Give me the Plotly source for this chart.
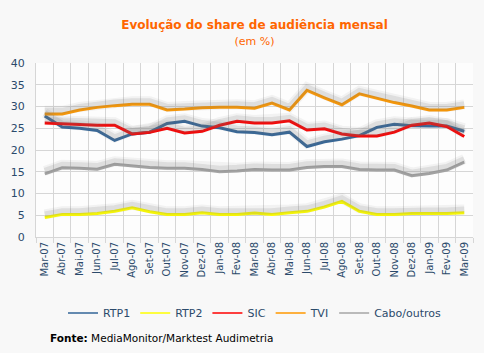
import plotly.graph_objects as go

months = ["Mar-07", "Abr-07", "Mai-07", "Jun-07", "Jul-07", "Ago-07", "Set-07", "Out-07",
          "Nov-07", "Dez-07", "Jan-08", "Fev-08", "Mar-08", "Abr-08", "Mai-08", "Jun-08",
          "Jul-08", "Ago-08", "Set-08", "Out-08", "Nov-08", "Dez-08", "Jan-09", "Fev-09", "Mar-09"]

rtp1 = [27.8, 25.3, 25.0, 24.5, 22.2, 23.7, 24.1, 26.1, 26.6, 25.5, 25.1, 24.2,
        24.0, 23.5, 24.1, 20.8, 21.9, 22.5, 23.3, 25.2, 25.9, 25.6, 25.5, 25.5, 24.3]
rtp2 = [4.5, 5.2, 5.2, 5.4, 5.9, 6.7, 5.8, 5.2, 5.2, 5.6, 5.2, 5.2,
        5.5, 5.2, 5.6, 5.9, 6.9, 8.2, 5.9, 5.2, 5.2, 5.4, 5.4, 5.4, 5.6]
sic = [26.2, 26.0, 25.8, 25.7, 25.7, 23.7, 24.1, 25.0, 23.9, 24.3, 25.7, 26.6,
       26.2, 26.2, 26.7, 24.6, 24.9, 23.7, 23.2, 23.2, 24.1, 25.7, 26.2, 25.4, 23.1]
tvi = [28.3, 28.3, 29.2, 29.8, 30.2, 30.5, 30.5, 29.2, 29.4, 29.7, 29.8, 29.8,
       29.6, 30.8, 29.2, 33.7, 32.0, 30.4, 32.9, 31.9, 30.9, 30.1, 29.2, 29.2, 29.8]
cabo = [14.5, 15.9, 15.8, 15.6, 16.7, 16.3, 16.0, 15.8, 15.8, 15.5, 15.0, 15.2,
        15.5, 15.4, 15.4, 16.0, 16.2, 16.2, 15.5, 15.4, 15.4, 14.1, 14.6, 15.4, 17.2]

series = [("RTP1", rtp1, "#336699"), ("RTP2", rtp2, "#ffff00"), ("SIC", sic, "#ff0000"),
          ("TVI", tvi, "#ff9900"), ("Cabo/outros", cabo, "#a6a6a6")]

text_col = "#2b4a6b"
font_fam = "DejaVu Sans"

fig = go.Figure()
# soft drop shadows (drawn on a shifted overlay axis so they sit slightly above)
for name, vals, col in series:
    for w, a in [(10, 0.08), (6, 0.16)]:
        fig.add_trace(go.Scatter(x=months, y=vals, mode="lines", yaxis="y2",
                                 line=dict(color=f"rgba(120,120,120,{a})", width=w),
                                 showlegend=False, hoverinfo="skip"))
for name, vals, col in series:
    fig.add_trace(go.Scatter(x=months, y=vals, mode="lines", name=name,
                             line=dict(color=col, width=3), showlegend=False))
# legend entries with thin sample lines
for name, vals, col in series:
    fig.add_trace(go.Scatter(x=[months[0]], y=[None], mode="lines", name=name,
                             line=dict(color=col, width=1.5), showlegend=True))

fig.update_layout(
    width=484, height=353,
    margin=dict(l=36, r=11, t=63, b=116),
    paper_bgcolor="#f8f8f8", plot_bgcolor="#fdfdfd",
    font=dict(family=font_fam, size=11, color=text_col),
    title=dict(text="<b>Evolução do share de audiência mensal</b><br><span style='font-size:11px'>(em %)</span>",
               x=0.5, xref="paper", xanchor="center", y=1 - 29 / 353, yref="container", yanchor="top",
               font=dict(family=font_fam, size=12, color="#ff6600")),
    xaxis=dict(type="category", tickson="boundaries", range=[-0.5, 24.5],
               tickmode="linear", dtick=1,
               showgrid=True, gridcolor="#d6d6d6", gridwidth=1,
               ticks="outside", ticklen=5, tickcolor="#d6d6d6",
               showline=True, linecolor="#d6d6d6", tickangle=-90,
               tickfont=dict(size=10, color=text_col)),
    yaxis=dict(range=[0, 40], dtick=5, showgrid=True, gridcolor="#d6d6d6",
               showline=True, linecolor="#d6d6d6", zeroline=False,
               ticks="outside", ticklen=8, tickcolor="rgba(0,0,0,0)",
               tickfont=dict(size=11, color=text_col)),
    yaxis2=dict(range=[-0.7, 39.3], overlaying="y", visible=False),
    legend=dict(orientation="h", x=0.5, xanchor="center", y=-0.437, yanchor="middle",
                font=dict(size=11, color=text_col), bgcolor="rgba(0,0,0,0)",
                itemwidth=30, tracegroupgap=0),
    showlegend=True,
)

fig.add_annotation(text="<b>Fonte:</b> MediaMonitor/Marktest Audimetria",
                   xref="paper", yref="paper", x=(48 - 36) / 437, y=(237 - 338) / 174,
                   xanchor="left", yanchor="middle", showarrow=False,
                   font=dict(family=font_fam, size=10.5, color="#000000"))

fig.write_html("out.html")
